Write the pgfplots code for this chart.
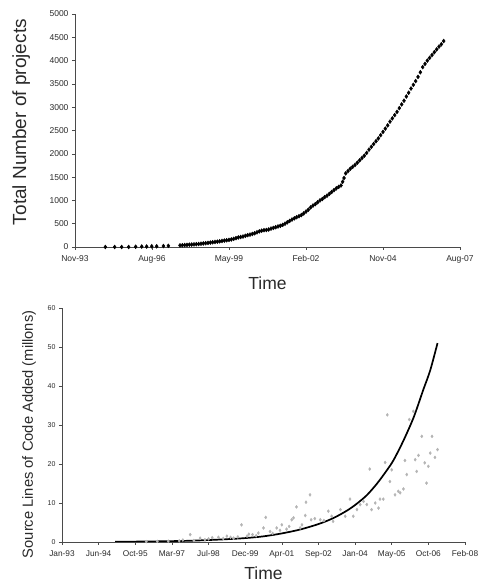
\documentclass[border=0pt]{standalone}
\usepackage{fontspec}
\setmainfont{Liberation Sans}
\usepackage{pgfplots}
\pgfplotsset{compat=1.18}
\definecolor{axgray}{HTML}{4A4A4A}
\definecolor{dotgray}{HTML}{B4B4B4}
\definecolor{labgray}{HTML}{2A2A2A}

\pgfplotsset{
  excelstyle/.style={
    scale only axis,
    axis x line=bottom, axis y line=left,
    axis line style={-, axgray, line width=0.7pt},
    tick align=outside, major tick length=3pt,
    tick style={axgray, line width=0.6pt},
    /pgf/number format/assume math mode=true,
    tick label style={text=labgray},
    label style={text=labgray},
    xticklabel style={yshift=-2pt},
  }
}

\begin{document}
\begin{tikzpicture}[x=1pt,y=1pt]
\useasboundingbox (0,0) rectangle (482,582);

% top: cumulative projects, x in months since Nov-93
\begin{axis}[excelstyle,
  at={(75pt,335pt)}, anchor=south west,
  width=385pt, height=233pt,
  xmin=0, xmax=165, ymin=0, ymax=5000,
  xtick={0,33,66,99,132,165},
  xticklabels={Nov-93,Aug-96,May-99,Feb-02,Nov-04,Aug-07},
  ytick={0,500,...,5000},
  /pgf/number format/1000 sep={},
  tick label style={font=\fontsize{8.5}{9}\selectfont},
  xlabel={Time}, ylabel={Total Number of projects},
  xlabel style={font=\fontsize{17.5}{18}\selectfont, at={(axis description cs:0.5,-0.155)}, anchor=center},
  ylabel style={font=\fontsize{19}{20}\selectfont, at={(axis description cs:-0.14,0.536)}, anchor=center, rotate=0},
]
\addplot[only marks, mark=diamond*, mark size=2pt, black] coordinates {
(13,0)(17,0)(20,0)(23,0)(26,5)(28.6,10)(30.7,10)(32.9,15)(35,15)(37.9,20)(40,25)
(45,35)(46,38)(47,42)(48,46)(49,50)(50,53)(51,56)(52,60)(53,64)(54,70)
(55,76)(56,82)(57,88)(58,95)(59,102)(60,108)(61,115)(62,122)(63,130)(64,138)
(65,145)(66,152)(67,162)(68,175)(69,190)(70,205)(71,215)(72,225)(73,240)(74,255)
(75,265)(76,280)(77,295)(78,315)(79,335)(80,350)(81,360)(82,365)(83,375)(84,395)
(85,410)(86,425)(87,440)(88,455)(89,475)(90,500)(91,530)(92,560)(93,590)(94,615)
(95,640)(96,660)(97,685)(98,720)(99,760)(100,800)(101,850)(102,890)(103,920)(104,960)
(105,1000)(106,1030)(107,1070)(108,1100)(109,1140)(110,1180)(111,1220)(112,1260)(113,1290)(114,1320)
(114.7,1400)(115.3,1480)(116,1580)(117,1630)(118,1680)(119,1720)(120,1760)(121,1810)(122,1860)(123,1910)
(124,1960)(125,2020)(126,2090)(127,2150)(128,2210)(129,2270)(130,2330)(131,2400)(132,2470)(133,2540)
(134,2610)(135,2690)(136,2760)(137,2830)(138,2900)(139,2980)(140,3060)(141,3140)(142,3230)(143,3310)
(144,3400)(145,3480)(146,3560)(147,3650)(148,3750)(149,3860)(150,3930)(151,4000)(152,4060)(153,4120)
(154,4180)(155,4240)(156,4300)(157,4350)(158,4420)
};
\end{axis}

% bottom: SLOC added, x as position between the date ticks
\begin{axis}[excelstyle,
  at={(62pt,40pt)}, anchor=south west,
  width=403pt, height=234pt,
  xmin=0, xmax=11, ymin=0, ymax=60,
  xtick={0,...,11},
  xticklabels={Jan-93,Jun-94,Oct-95,Mar-97,Jul-98,Dec-99,Apr-01,Sep-02,Jan-04,May-05,Oct-06,Feb-08},
  ytick={0,10,...,60},
  xticklabel style={font=\fontsize{8.3}{9}\selectfont},
  yticklabel style={font=\fontsize{7}{8}\selectfont},
  xlabel={Time}, ylabel={Source Lines of Code Added (millons)},
  xlabel style={font=\fontsize{17.5}{18}\selectfont, at={(axis description cs:0.5,-0.132)}, anchor=center},
  ylabel style={font=\fontsize{14.7}{16}\selectfont, at={(axis description cs:-0.082,0.46)}, anchor=center, rotate=0},
]
\addplot[only marks, mark=diamond*, mark size=1.5pt, dotgray] coordinates {
(2.3,0.1)(2.6,0.15)(2.9,0.2)(3.2,0.3)(3.3,0.5)(3.5,1.9)(3.6,0.4)(3.77,1.0)(3.9,0.6)(4.0,0.8)
(4.1,1.1)(4.27,1.2)(4.4,0.9)(4.5,1.5)(4.6,1.2)(4.68,1.0)(4.8,1.3)(4.9,4.4)(5.05,1.5)(5.1,2.0)
(5.2,1.9)(5.3,1.6)(5.36,2.3)(5.5,3.6)(5.56,6.3)(5.68,2.7)(5.75,2.2)(5.86,3.6)(5.95,3.0)(6.0,4.4)
(6.13,3.3)(6.2,4.0)(6.27,5.7)(6.32,6.2)(6.4,9.0)(6.5,3.6)(6.55,4.4)(6.64,6.8)(6.66,10.2)(6.77,12.1)
(6.8,5.7)(6.9,6.0)(7.05,5.7)(7.15,5.5)(7.27,7.9)(7.36,6.6)(7.4,5.3)(7.6,8.3)(7.73,6.6)(7.86,11.0)
(7.95,6.6)(8.05,8.3)(8.14,9.6)(8.23,10.4)(8.32,9.6)(8.4,18.7)(8.45,8.3)(8.55,10.0)(8.64,8.7)(8.68,11.0)
(8.77,11.0)(8.82,20.4)(8.88,32.6)(8.95,15.5)(9.0,18.5)(9.09,12.1)(9.18,13.0)(9.23,12.6)(9.32,13.6)(9.36,20.9)
(9.41,17.3)(9.48,31.4)(9.59,33.5)(9.64,21.1)(9.68,18.1)(9.73,22.2)(9.82,27.1)(9.9,20.3)(9.95,15.1)(10.0,19.4)
(10.05,22.8)(10.1,27.1)(10.18,21.7)(10.25,23.7)
};
\addplot[black, line width=1.7pt, smooth] coordinates {
(1.45,0.05)(2,0.1)(2.5,0.15)(3,0.22)(3.5,0.32)(4,0.5)(4.5,0.72)(5,1.0)(5.5,1.45)(6,2.2)
(6.5,3.2)(7,4.6)(7.4,6.1)(7.77,8.0)(8.03,9.7)(8.32,12)(8.6,15)(8.86,18.3)(9.05,21)(9.32,26)
(9.6,32)(9.86,39)(10.05,44)(10.25,51)
};
\end{axis}
\end{tikzpicture}
\end{document}
